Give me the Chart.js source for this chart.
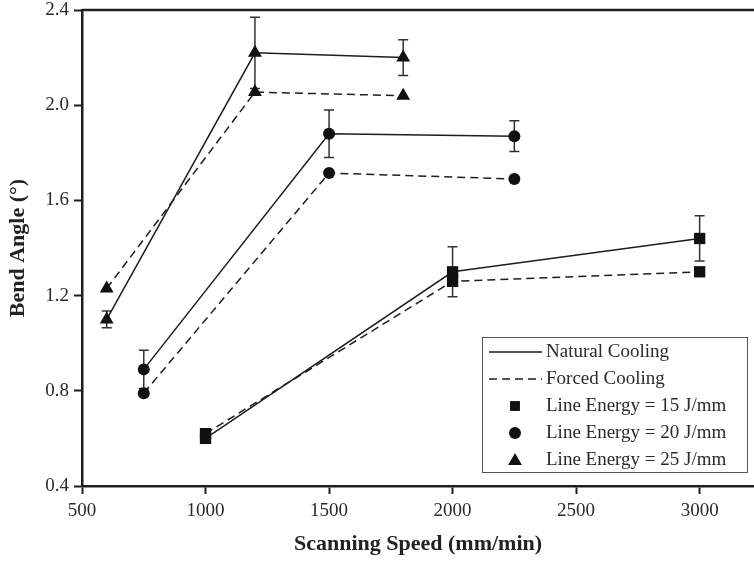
<!DOCTYPE html>
<html>
<head>
<meta charset="utf-8">
<script src="https://cdn.jsdelivr.net/npm/chart.js@4.4.0/dist/chart.umd.min.js"></script>
<style>
  body { margin: 0; background: #fff; overflow: hidden; }
  #wrap { width: 754px; height: 561px; }
  canvas { display: block; }
</style>
</head>
<body>
<div id="wrap"><canvas id="myChart" width="754" height="561"></canvas></div>
<script>
// scanning speeds (mm/min) for each line energy
const speeds15 = [1000, 2000, 3000];
const speeds20 = [750, 1500, 2250];
const speeds25 = [600, 1200, 1800];

// bend angle (deg), natural cooling + error
const natural15 = [0.60, 1.30, 1.44];
const natural20 = [0.89, 1.88, 1.87];
const natural25 = [1.10, 2.22, 2.20];
const err15 = [0, 0.105, 0.095];
const err20 = [0.08, 0.10, 0.065];
const err25 = [0.035, 0.15, 0.075];

// bend angle (deg), forced cooling
const forced15 = [0.62, 1.26, 1.30];
const forced20 = [0.79, 1.715, 1.69];
const forced25 = [1.23, 2.055, 2.04];

const xTicks = [500, 1000, 1500, 2000, 2500, 3000];
const yTicks = [0.4, 0.8, 1.2, 1.6, 2.0, 2.4];

const legendItems = ['Natural Cooling', 'Forced Cooling', 'Line Energy = 15 J/mm', 'Line Energy = 20 J/mm', 'Line Energy = 25 J/mm'];

const ink = '#1e1e1e';
const serif = "'Liberation Serif', 'Times New Roman', serif";

const pts = (xs, ys) => xs.map((x, i) => ({x: x, y: ys[i]}));

function serie(label, xs, ys, style, radius, dashed, err) {
  return {
    label: label,
    data: pts(xs, ys),
    err: err,
    borderColor: ink,
    borderWidth: 1.5,
    borderDash: dashed ? [8, 5] : [],
    pointStyle: style,
    pointRadius: radius,
    pointHoverRadius: radius,
    pointBackgroundColor: '#111',
    pointBorderWidth: 0,
    fill: false,
    tension: 0
  };
}

const datasets = [
  serie('Natural 15', speeds15, natural15, 'rect', 8, false, err15),
  serie('Forced 15', speeds15, forced15, 'rect', 8, true, null),
  serie('Natural 20', speeds20, natural20, 'circle', 6, false, err20),
  serie('Forced 20', speeds20, forced20, 'circle', 6, true, null),
  serie('Natural 25', speeds25, natural25, 'triangle', 8, false, err25),
  serie('Forced 25', speeds25, forced25, 'triangle', 8, true, null)
];

// error bars under the markers
const errorBars = {
  id: 'errorBars',
  beforeDatasetsDraw(chart) {
    const ctx = chart.ctx;
    const xs = chart.scales.x, ys = chart.scales.y;
    ctx.save();
    ctx.strokeStyle = '#333';
    ctx.lineWidth = 1.5;
    chart.data.datasets.forEach(ds => {
      if (!ds.err) return;
      ds.data.forEach((p, i) => {
        const e = ds.err[i];
        if (!e) return;
        const px = xs.getPixelForValue(p.x);
        const top = ys.getPixelForValue(p.y + e);
        const bot = ys.getPixelForValue(p.y - e);
        ctx.beginPath();
        ctx.moveTo(px, top); ctx.lineTo(px, bot);
        ctx.moveTo(px - 5, top); ctx.lineTo(px + 5, top);
        ctx.moveTo(px - 5, bot); ctx.lineTo(px + 5, bot);
        ctx.stroke();
      });
    });
    ctx.restore();
  }
};

// top frame line and legend box inside the plot
const frameAndLegend = {
  id: 'frameAndLegend',
  afterDraw(chart) {
    const ctx = chart.ctx;
    const a = chart.chartArea;
    ctx.save();
    ctx.strokeStyle = ink;
    ctx.lineWidth = 2.5;
    ctx.beginPath();
    ctx.moveTo(a.left, a.top); ctx.lineTo(a.right, a.top);
    ctx.stroke();

    const x2 = a.right - 7, y2 = a.bottom - 14;
    const x1 = x2 - 265, y1 = y2 - 135;
    ctx.fillStyle = '#fff';
    ctx.fillRect(x1, y1, x2 - x1, y2 - y1);
    ctx.strokeStyle = '#555';
    ctx.lineWidth = 1;
    ctx.strokeRect(x1 + 0.5, y1 + 0.5, x2 - x1, y2 - y1);

    const rowY = i => y1 + 15 + i * 27;
    const lx1 = x1 + 7, lx2 = x1 + 60, mx = x1 + 33, tx = x1 + 64;

    ctx.strokeStyle = ink;
    ctx.lineWidth = 1.5;
    ctx.beginPath();
    ctx.moveTo(lx1, rowY(0)); ctx.lineTo(lx2, rowY(0));
    ctx.stroke();
    ctx.setLineDash([8, 5]);
    ctx.beginPath();
    ctx.moveTo(lx1, rowY(1)); ctx.lineTo(lx2, rowY(1));
    ctx.stroke();
    ctx.setLineDash([]);

    ctx.fillStyle = '#111';
    Chart.helpers.drawPoint(ctx, {pointStyle: 'rect', radius: 7, borderWidth: 0}, mx, rowY(2));
    Chart.helpers.drawPoint(ctx, {pointStyle: 'circle', radius: 6, borderWidth: 0}, mx, rowY(3));
    Chart.helpers.drawPoint(ctx, {pointStyle: 'triangle', radius: 8, borderWidth: 0}, mx, rowY(4) + 1);

    ctx.fillStyle = '#2a2a2a';
    ctx.font = '19px ' + serif;
    ctx.textBaseline = 'middle';
    ctx.textAlign = 'left';
    legendItems.forEach((t, i) => ctx.fillText(t, tx, rowY(i)));
    ctx.restore();
  }
};

const axisTitle = text => ({
  display: true,
  text: text,
  color: '#222',
  font: {family: serif, size: 22, weight: 'bold'},
  padding: {top: 5, bottom: 3}
});

new Chart(document.getElementById('myChart').getContext('2d'), {
  type: 'line',
  data: {datasets: datasets},
  options: {
    responsive: false,
    animation: false,
    devicePixelRatio: 1,
    layout: {autoPadding: false, padding: {top: 10, right: 0, left: 0, bottom: 0}},
    plugins: {legend: {display: false}, tooltip: {enabled: false}},
    scales: {
      x: {
        type: 'linear',
        min: 500,
        max: 3220,
        afterBuildTicks: s => { s.ticks = xTicks.map(v => ({value: v})); },
        afterFit: s => { s.height = 75; s.paddingLeft = 0; s.paddingRight = 0; },
        grid: {drawOnChartArea: false, drawTicks: true, tickLength: 8, tickWidth: 2, tickColor: ink},
        border: {display: true, color: ink, width: 2.5},
        ticks: {color: '#2a2a2a', font: {family: serif, size: 19}, padding: 6, maxRotation: 0, callback: v => String(v)},
        title: axisTitle('Scanning Speed (mm/min)')
      },
      y: {
        min: 0.4,
        max: 2.4,
        afterBuildTicks: s => { s.ticks = yTicks.map(v => ({value: v})); },
        afterFit: s => { s.width = 82; s.paddingTop = 0; s.paddingBottom = 0; },
        grid: {drawOnChartArea: false, drawTicks: true, tickLength: 8, tickWidth: 2, tickColor: ink},
        border: {display: true, color: ink, width: 2.5},
        ticks: {color: '#2a2a2a', font: {family: serif, size: 19}, padding: 5, callback: v => v.toFixed(1)},
        title: axisTitle('Bend Angle (°)')
      }
    }
  },
  plugins: [errorBars, frameAndLegend]
});
</script>
</body>
</html>
